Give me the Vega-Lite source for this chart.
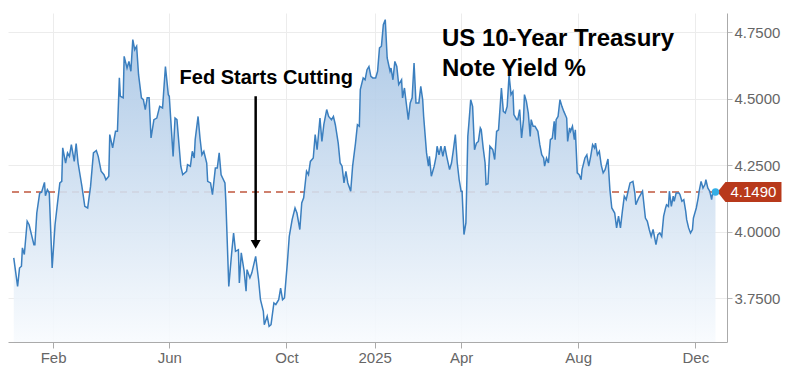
{
  "$schema": "https://vega.github.io/schema/vega-lite/v6.json",
  "width": 719,
  "height": 329,
  "autosize": {"type": "none"},
  "padding": {"left": 8, "top": 13, "right": 73, "bottom": 38},
  "background": "white",
  "config": {"view": {"stroke": null}, "font": "Liberation Sans"},
  "datasets": {
    "yields": [
      {"date":"2023-12-22","yield":3.901},{"date":"2023-12-26","yield":3.794},{"date":"2023-12-28","yield":3.863},{"date":"2023-12-30","yield":3.870},{"date":"2023-12-31","yield":3.939},
      {"date":"2024-01-02","yield":3.914},{"date":"2024-01-05","yield":4.039},{"date":"2024-01-07","yield":4.026},{"date":"2024-01-09","yield":3.995},{"date":"2024-01-12","yield":3.951},{"date":"2024-01-13","yield":3.951},{"date":"2024-01-15","yield":4.070},{"date":"2024-01-18","yield":4.145},{"date":"2024-01-20","yield":4.148},{"date":"2024-01-23","yield":4.185},{"date":"2024-01-24","yield":4.135},{"date":"2024-01-26","yield":4.158},{"date":"2024-01-28","yield":4.145},{"date":"2024-01-31","yield":3.863},
      {"date":"2024-02-03","yield":4.026},{"date":"2024-02-05","yield":4.089},{"date":"2024-02-08","yield":4.183},{"date":"2024-02-10","yield":4.189},{"date":"2024-02-11","yield":4.315},{"date":"2024-02-14","yield":4.258},{"date":"2024-02-16","yield":4.296},{"date":"2024-02-18","yield":4.283},{"date":"2024-02-20","yield":4.327},{"date":"2024-02-23","yield":4.264},{"date":"2024-02-25","yield":4.331},{"date":"2024-02-27","yield":4.258},
      {"date":"2024-03-02","yield":4.170},{"date":"2024-03-05","yield":4.095},{"date":"2024-03-08","yield":4.089},{"date":"2024-03-11","yield":4.170},{"date":"2024-03-14","yield":4.296},{"date":"2024-03-17","yield":4.305},{"date":"2024-03-19","yield":4.283},{"date":"2024-03-22","yield":4.227},{"date":"2024-03-25","yield":4.214},{"date":"2024-03-27","yield":4.195},{"date":"2024-03-30","yield":4.208},{"date":"2024-03-31","yield":4.365},
      {"date":"2024-04-03","yield":4.315},{"date":"2024-04-06","yield":4.377},{"date":"2024-04-08","yield":4.377},{"date":"2024-04-10","yield":4.578},{"date":"2024-04-11","yield":4.509},{"date":"2024-04-14","yield":4.503},{"date":"2024-04-15","yield":4.659},{"date":"2024-04-18","yield":4.615},{"date":"2024-04-20","yield":4.640},{"date":"2024-04-22","yield":4.603},{"date":"2024-04-24","yield":4.722},{"date":"2024-04-26","yield":4.684},{"date":"2024-04-28","yield":4.697},{"date":"2024-04-30","yield":4.590},
      {"date":"2024-05-03","yield":4.503},{"date":"2024-05-05","yield":4.496},{"date":"2024-05-07","yield":4.459},{"date":"2024-05-09","yield":4.503},{"date":"2024-05-11","yield":4.503},{"date":"2024-05-13","yield":4.352},{"date":"2024-05-16","yield":4.421},{"date":"2024-05-19","yield":4.427},{"date":"2024-05-22","yield":4.471},{"date":"2024-05-25","yield":4.465},{"date":"2024-05-28","yield":4.621},{"date":"2024-05-31","yield":4.515},
      {"date":"2024-06-01","yield":4.509},{"date":"2024-06-05","yield":4.283},{"date":"2024-06-07","yield":4.427},{"date":"2024-06-09","yield":4.421},{"date":"2024-06-13","yield":4.246},{"date":"2024-06-15","yield":4.214},{"date":"2024-06-19","yield":4.227},{"date":"2024-06-20","yield":4.252},{"date":"2024-06-23","yield":4.246},{"date":"2024-06-25","yield":4.302},{"date":"2024-06-27","yield":4.277},{"date":"2024-06-28","yield":4.346},
      {"date":"2024-07-01","yield":4.433},{"date":"2024-07-03","yield":4.352},{"date":"2024-07-05","yield":4.289},{"date":"2024-07-07","yield":4.302},{"date":"2024-07-10","yield":4.258},{"date":"2024-07-11","yield":4.189},{"date":"2024-07-14","yield":4.183},{"date":"2024-07-16","yield":4.139},{"date":"2024-07-19","yield":4.239},{"date":"2024-07-21","yield":4.239},{"date":"2024-07-23","yield":4.296},{"date":"2024-07-25","yield":4.214},{"date":"2024-07-29","yield":4.183},{"date":"2024-07-30","yield":4.108},
      {"date":"2024-08-02","yield":3.794},{"date":"2024-08-05","yield":3.920},{"date":"2024-08-07","yield":3.995},{"date":"2024-08-09","yield":3.926},{"date":"2024-08-12","yield":3.932},{"date":"2024-08-13","yield":3.807},{"date":"2024-08-15","yield":3.920},{"date":"2024-08-18","yield":3.851},{"date":"2024-08-20","yield":3.776},{"date":"2024-08-21","yield":3.857},{"date":"2024-08-24","yield":3.826},{"date":"2024-08-26","yield":3.845},{"date":"2024-08-30","yield":3.907},
      {"date":"2024-09-02","yield":3.820},{"date":"2024-09-04","yield":3.744},{"date":"2024-09-07","yield":3.700},{"date":"2024-09-08","yield":3.650},{"date":"2024-09-11","yield":3.682},{"date":"2024-09-13","yield":3.644},{"date":"2024-09-15","yield":3.650},{"date":"2024-09-18","yield":3.732},{"date":"2024-09-20","yield":3.726},{"date":"2024-09-23","yield":3.744},{"date":"2024-09-25","yield":3.788},{"date":"2024-09-27","yield":3.744},{"date":"2024-09-29","yield":3.751},
      {"date":"2024-10-02","yield":3.882},{"date":"2024-10-04","yield":3.982},{"date":"2024-10-07","yield":4.045},{"date":"2024-10-10","yield":4.089},{"date":"2024-10-12","yield":4.070},{"date":"2024-10-15","yield":4.008},{"date":"2024-10-17","yield":4.108},{"date":"2024-10-19","yield":4.127},{"date":"2024-10-22","yield":4.227},{"date":"2024-10-24","yield":4.214},{"date":"2024-10-26","yield":4.264},{"date":"2024-10-29","yield":4.277},{"date":"2024-10-31","yield":4.365},
      {"date":"2024-11-02","yield":4.308},{"date":"2024-11-05","yield":4.427},{"date":"2024-11-07","yield":4.339},{"date":"2024-11-09","yield":4.402},{"date":"2024-11-12","yield":4.459},{"date":"2024-11-14","yield":4.433},{"date":"2024-11-17","yield":4.421},{"date":"2024-11-19","yield":4.433},{"date":"2024-11-21","yield":4.402},{"date":"2024-11-24","yield":4.333},{"date":"2024-11-26","yield":4.258},{"date":"2024-11-28","yield":4.246},{"date":"2024-11-30","yield":4.183},
      {"date":"2024-12-02","yield":4.227},{"date":"2024-12-04","yield":4.183},{"date":"2024-12-07","yield":4.152},{"date":"2024-12-09","yield":4.246},{"date":"2024-12-12","yield":4.333},{"date":"2024-12-14","yield":4.402},{"date":"2024-12-16","yield":4.396},{"date":"2024-12-17","yield":4.534},{"date":"2024-12-20","yield":4.578},{"date":"2024-12-22","yield":4.571},{"date":"2024-12-24","yield":4.609},{"date":"2024-12-26","yield":4.621},{"date":"2024-12-28","yield":4.584},{"date":"2024-12-30","yield":4.578},
      {"date":"2025-01-02","yield":4.578},{"date":"2025-01-04","yield":4.603},{"date":"2025-01-06","yield":4.691},{"date":"2025-01-08","yield":4.697},{"date":"2025-01-10","yield":4.778},{"date":"2025-01-12","yield":4.797},{"date":"2025-01-14","yield":4.653},{"date":"2025-01-17","yield":4.603},{"date":"2025-01-18","yield":4.615},{"date":"2025-01-20","yield":4.571},{"date":"2025-01-22","yield":4.640},{"date":"2025-01-24","yield":4.621},{"date":"2025-01-26","yield":4.553},{"date":"2025-01-29","yield":4.571},{"date":"2025-01-30","yield":4.503},
      {"date":"2025-02-01","yield":4.540},{"date":"2025-02-02","yield":4.509},{"date":"2025-02-05","yield":4.421},{"date":"2025-02-07","yield":4.484},{"date":"2025-02-09","yield":4.503},{"date":"2025-02-11","yield":4.634},{"date":"2025-02-13","yield":4.484},{"date":"2025-02-16","yield":4.484},{"date":"2025-02-18","yield":4.546},{"date":"2025-02-20","yield":4.496},{"date":"2025-02-21","yield":4.433},{"date":"2025-02-24","yield":4.296},{"date":"2025-02-26","yield":4.246},{"date":"2025-02-27","yield":4.283},
      {"date":"2025-03-01","yield":4.208},{"date":"2025-03-04","yield":4.246},{"date":"2025-03-06","yield":4.283},{"date":"2025-03-07","yield":4.321},{"date":"2025-03-09","yield":4.289},{"date":"2025-03-11","yield":4.321},{"date":"2025-03-13","yield":4.283},{"date":"2025-03-15","yield":4.321},{"date":"2025-03-17","yield":4.283},{"date":"2025-03-20","yield":4.233},{"date":"2025-03-22","yield":4.258},{"date":"2025-03-24","yield":4.308},{"date":"2025-03-26","yield":4.365},{"date":"2025-03-28","yield":4.258},{"date":"2025-03-30","yield":4.195},
      {"date":"2025-04-01","yield":4.152},{"date":"2025-04-02","yield":4.152},{"date":"2025-04-04","yield":3.989},{"date":"2025-04-06","yield":4.033},{"date":"2025-04-08","yield":4.358},{"date":"2025-04-09","yield":4.402},{"date":"2025-04-11","yield":4.496},{"date":"2025-04-13","yield":4.471},{"date":"2025-04-15","yield":4.308},{"date":"2025-04-17","yield":4.333},{"date":"2025-04-19","yield":4.339},{"date":"2025-04-21","yield":4.390},{"date":"2025-04-22","yield":4.383},{"date":"2025-04-24","yield":4.315},{"date":"2025-04-26","yield":4.258},{"date":"2025-04-27","yield":4.177},{"date":"2025-04-29","yield":4.180},
      {"date":"2025-05-01","yield":4.321},{"date":"2025-05-04","yield":4.308},{"date":"2025-05-06","yield":4.271},{"date":"2025-05-08","yield":4.377},{"date":"2025-05-10","yield":4.383},{"date":"2025-05-13","yield":4.540},{"date":"2025-05-15","yield":4.452},{"date":"2025-05-17","yield":4.446},{"date":"2025-05-19","yield":4.471},{"date":"2025-05-21","yield":4.590},{"date":"2025-05-23","yield":4.515},{"date":"2025-05-25","yield":4.527},{"date":"2025-05-26","yield":4.440},{"date":"2025-05-29","yield":4.421},{"date":"2025-05-30","yield":4.421},
      {"date":"2025-06-01","yield":4.459},{"date":"2025-06-03","yield":4.352},{"date":"2025-06-05","yield":4.421},{"date":"2025-06-06","yield":4.515},{"date":"2025-06-08","yield":4.490},{"date":"2025-06-10","yield":4.446},{"date":"2025-06-12","yield":4.358},{"date":"2025-06-13","yield":4.421},{"date":"2025-06-15","yield":4.396},{"date":"2025-06-17","yield":4.396},{"date":"2025-06-20","yield":4.377},{"date":"2025-06-22","yield":4.327},{"date":"2025-06-24","yield":4.289},{"date":"2025-06-26","yield":4.277},{"date":"2025-06-27","yield":4.246},{"date":"2025-06-29","yield":4.277},
      {"date":"2025-07-01","yield":4.258},{"date":"2025-07-03","yield":4.346},{"date":"2025-07-05","yield":4.352},{"date":"2025-07-07","yield":4.415},{"date":"2025-07-08","yield":4.346},{"date":"2025-07-09","yield":4.421},{"date":"2025-07-11","yield":4.433},{"date":"2025-07-13","yield":4.496},{"date":"2025-07-15","yield":4.471},{"date":"2025-07-17","yield":4.452},{"date":"2025-07-20","yield":4.427},{"date":"2025-07-21","yield":4.339},{"date":"2025-07-23","yield":4.390},{"date":"2025-07-24","yield":4.377},{"date":"2025-07-26","yield":4.396},{"date":"2025-07-28","yield":4.346},{"date":"2025-07-29","yield":4.383},{"date":"2025-07-31","yield":4.221},
      {"date":"2025-08-02","yield":4.214},{"date":"2025-08-04","yield":4.195},{"date":"2025-08-05","yield":4.233},{"date":"2025-08-08","yield":4.277},{"date":"2025-08-10","yield":4.289},{"date":"2025-08-12","yield":4.246},{"date":"2025-08-14","yield":4.283},{"date":"2025-08-16","yield":4.327},{"date":"2025-08-18","yield":4.315},{"date":"2025-08-19","yield":4.333},{"date":"2025-08-21","yield":4.289},{"date":"2025-08-23","yield":4.302},{"date":"2025-08-25","yield":4.250},{"date":"2025-08-27","yield":4.221},{"date":"2025-08-29","yield":4.233},
      {"date":"2025-09-01","yield":4.273},{"date":"2025-09-03","yield":4.158},{"date":"2025-09-05","yield":4.089},{"date":"2025-09-08","yield":4.070},{"date":"2025-09-10","yield":4.014},{"date":"2025-09-12","yield":4.058},{"date":"2025-09-14","yield":4.014},{"date":"2025-09-16","yield":4.076},{"date":"2025-09-18","yield":4.133},{"date":"2025-09-20","yield":4.120},{"date":"2025-09-22","yield":4.152},{"date":"2025-09-24","yield":4.183},{"date":"2025-09-27","yield":4.189},{"date":"2025-09-29","yield":4.145},{"date":"2025-09-30","yield":4.101},
      {"date":"2025-10-03","yield":4.127},{"date":"2025-10-05","yield":4.139},{"date":"2025-10-07","yield":4.152},{"date":"2025-10-10","yield":4.051},{"date":"2025-10-12","yield":4.039},{"date":"2025-10-14","yield":4.008},{"date":"2025-10-16","yield":3.982},{"date":"2025-10-18","yield":4.008},{"date":"2025-10-20","yield":3.970},{"date":"2025-10-21","yield":3.951},{"date":"2025-10-23","yield":3.989},{"date":"2025-10-25","yield":3.995},{"date":"2025-10-27","yield":3.982},{"date":"2025-10-29","yield":4.058},{"date":"2025-10-31","yield":4.089},
      {"date":"2025-11-01","yield":4.101},{"date":"2025-11-03","yield":4.095},{"date":"2025-11-04","yield":4.152},{"date":"2025-11-06","yield":4.095},{"date":"2025-11-08","yield":4.133},{"date":"2025-11-09","yield":4.114},{"date":"2025-11-11","yield":4.145},{"date":"2025-11-14","yield":4.145},{"date":"2025-11-15","yield":4.139},{"date":"2025-11-17","yield":4.114},{"date":"2025-11-19","yield":4.120},{"date":"2025-11-21","yield":4.076},{"date":"2025-11-22","yield":4.045},{"date":"2025-11-24","yield":4.014},{"date":"2025-11-26","yield":3.995},{"date":"2025-11-28","yield":4.008},{"date":"2025-11-29","yield":4.051},
      {"date":"2025-12-02","yield":4.089},{"date":"2025-12-04","yield":4.127},{"date":"2025-12-05","yield":4.152},{"date":"2025-12-07","yield":4.189},{"date":"2025-12-09","yield":4.164},{"date":"2025-12-11","yield":4.177},{"date":"2025-12-12","yield":4.195},{"date":"2025-12-14","yield":4.164},{"date":"2025-12-16","yield":4.152},{"date":"2025-12-18","yield":4.120},{"date":"2025-12-19","yield":4.145},{"date":"2025-12-22","yield":4.149}
    ],
    "last": [{"date": "2025-12-22", "yield": 4.149}],
    "arrow": [{"date": "2024-08-30", "yield": 4.509, "yield2": 3.965, "tip": 3.952}],
    "fedLabel": [{"date": "2024-09-10", "yield": 4.5545, "label": "Fed Starts Cutting"}],
    "title": [
      {"date": "2025-03-12", "yield": 4.6965, "label": "US 10-Year Treasury"},
      {"date": "2025-03-12", "yield": 4.5865, "label": "Note Yield %"}
    ]
  },
  "layer": [
    {
      "data": {"name": "last"},
      "mark": {"type": "rule", "stroke": "#c0573e", "strokeWidth": 1.5, "strokeDash": [7, 5]},
      "encoding": {
        "y": {"field": "yield", "type": "quantitative", "title": null}
      }
    },
    {
      "data": {"name": "yields"},
      "mark": {
        "type": "area",
        "fillOpacity": 0.9,
        "color": {
          "gradient": "linear",
          "x1": 1, "y1": 1, "x2": 1, "y2": 0,
          "stops": [
            {"offset": 0, "color": "#f8fbfe"},
            {"offset": 1, "color": "#a3c2e3"}
          ]
        },
        "line": {"color": "#3b7fbf", "stroke": "#3b7fbf", "strokeWidth": 1.5}
      },
      "encoding": {
        "x": {
          "field": "date", "type": "temporal",
          "scale": {"type": "utc", "domain": [{"year": 2023, "month": 12, "date": 16, "utc": true}, {"year": 2026, "month": 1, "date": 3, "utc": true}]},
          "axis": {
            "title": null,
            "values": [
              {"year": 2024, "month": 2, "date": 1, "utc": true},
              {"year": 2024, "month": 6, "date": 1, "utc": true},
              {"year": 2024, "month": 10, "date": 1, "utc": true},
              {"year": 2025, "month": 1, "date": 1, "utc": true},
              {"year": 2025, "month": 4, "date": 1, "utc": true},
              {"year": 2025, "month": 8, "date": 1, "utc": true},
              {"year": 2025, "month": 12, "date": 1, "utc": true}
            ],
            "labelExpr": "utcmonth(datum.value) == 0 ? utcFormat(datum.value, '%Y') : utcFormat(datum.value, '%b')",
            "labelFont": "Liberation Sans",
            "labelFontSize": 15,
            "labelColor": "#666666",
            "labelPadding": 2,
            "tickSize": 6,
            "tickColor": "#aaaaaa",
            "domainColor": "#aaaaaa",
            "grid": true,
            "gridColor": "#ececec"
          }
        },
        "y": {
          "field": "yield", "type": "quantitative",
          "scale": {"domain": [3.585, 4.822], "zero": false, "nice": false},
          "axis": {
            "title": null,
            "orient": "right",
            "values": [3.75, 4.0, 4.25, 4.5, 4.75],
            "format": ".4f",
            "labelFont": "Liberation Sans",
            "labelFontSize": 15,
            "labelColor": "#666666",
            "labelPadding": 2,
            "tickSize": 5,
            "tickColor": "#bbbbbb",
            "domainColor": "#aaaaaa",
            "grid": true,
            "gridColor": "#ececec"
          }
        },
        "y2": {"datum": 3.585}
      }
    },
    {
      "data": {"name": "arrow"},
      "mark": {"type": "rule", "color": "black", "strokeWidth": 2.5},
      "encoding": {
        "x": {"field": "date", "type": "temporal", "title": null},
        "y": {"field": "yield", "type": "quantitative", "title": null},
        "y2": {"field": "yield2"}
      }
    },
    {
      "data": {"name": "arrow"},
      "mark": {"type": "point", "shape": "triangle-down", "filled": true, "color": "black", "opacity": 1, "size": 100},
      "encoding": {
        "x": {"field": "date", "type": "temporal", "title": null},
        "y": {"field": "tip", "type": "quantitative", "title": null}
      }
    },
    {
      "data": {"name": "fedLabel"},
      "mark": {"type": "text", "align": "center", "baseline": "alphabetic", "font": "Liberation Sans", "fontSize": 20, "fontWeight": "bold", "color": "black"},
      "encoding": {
        "x": {"field": "date", "type": "temporal", "title": null},
        "y": {"field": "yield", "type": "quantitative", "title": null},
        "text": {"field": "label"}
      }
    },
    {
      "data": {"name": "title"},
      "mark": {"type": "text", "align": "left", "baseline": "alphabetic", "font": "Liberation Sans", "fontSize": 24, "fontWeight": "bold", "color": "black"},
      "encoding": {
        "x": {"field": "date", "type": "temporal", "title": null},
        "y": {"field": "yield", "type": "quantitative", "title": null},
        "text": {"field": "label"}
      }
    },
    {
      "data": {"name": "last"},
      "mark": {"type": "point", "shape": "M 2 0 L 10 -10 L 66 -10 L 66 10 L 10 10 Z", "size": 4, "filled": true, "color": "#b8391b", "opacity": 1, "strokeWidth": 0},
      "encoding": {
        "x": {"field": "date", "type": "temporal", "title": null},
        "y": {"field": "yield", "type": "quantitative", "title": null}
      }
    },
    {
      "data": {"name": "last"},
      "mark": {"type": "point", "filled": true, "size": 55, "color": "#33aee6", "opacity": 1},
      "encoding": {
        "x": {"field": "date", "type": "temporal", "title": null},
        "y": {"field": "yield", "type": "quantitative", "title": null}
      }
    },
    {
      "data": {"name": "last"},
      "mark": {"type": "text", "align": "left", "baseline": "middle", "dx": 15, "font": "Liberation Sans", "fontSize": 15, "color": "white"},
      "encoding": {
        "x": {"field": "date", "type": "temporal", "title": null},
        "y": {"field": "yield", "type": "quantitative", "title": null},
        "text": {"field": "yield", "format": ".4f"}
      }
    }
  ]
}
